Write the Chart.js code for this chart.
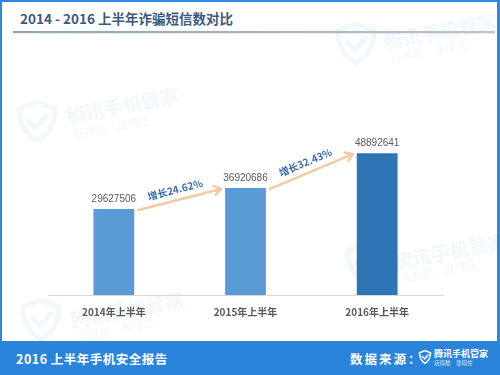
<!DOCTYPE html>
<html><head><meta charset="utf-8">
<script src="https://cdn.jsdelivr.net/npm/chart.js@4.4.1/dist/chart.umd.min.js"></script>
<style>
html,body{margin:0;padding:0;width:500px;height:375px;overflow:hidden;background:#fff;font-family:"Noto Sans CJK SC","Noto Sans",sans-serif;}
#frame{position:absolute;left:0;top:0;width:500px;height:375px;box-sizing:border-box;border-left:2px solid #2f86dc;border-right:3px solid #2f86dc;border-top:2px solid #2f86dc;}
#title{position:absolute;left:20px;top:8px;font-size:13.5px;font-weight:bold;color:#3d5a7c;white-space:nowrap;}
#rule{position:absolute;left:13px;top:31px;width:482px;height:2px;background:linear-gradient(to right,#8fa3b8,#b9c6d3);box-shadow:0 1px 1px rgba(0,0,0,0.08);}
#footer{position:absolute;left:0;top:341px;width:500px;height:34px;background:#2b84dc;color:#fff;}
#ftl{position:absolute;left:16px;top:8px;font-size:12.5px;font-weight:bold;letter-spacing:0.5px;}
#ftr{position:absolute;left:350px;top:8px;font-size:12.5px;font-weight:bold;letter-spacing:2px;}
#flogo{position:absolute;left:418px;top:7px;}
.wm{position:absolute;opacity:0.055;color:#2b84dc;pointer-events:none;}
.wm .t{position:absolute;font-weight:bold;font-size:19px;white-space:nowrap;transform-origin:left top;}
.wm .s{position:absolute;font-size:11px;white-space:nowrap;transform-origin:left top;}
canvas{position:absolute;left:0;top:0;}
</style></head>
<body>
<div id="frame"></div>
<div class="wm" style="left:14px;top:90px;width:160px;height:60px;"><svg width="46" height="46" viewBox="0 0 46 46" style="position:absolute;left:0;top:8px;"><path d="M23 4 L41 11 Q41 33 23 43 Q5 33 5 11 Z" fill="none" stroke="#2b84dc" stroke-width="5"/><path d="M13 21 L22 30 L34 16" fill="none" stroke="#2b84dc" stroke-width="5"/></svg><div class="t" style="left:50px;top:12px;transform:rotate(-11deg)">腾讯手机管家</div><div class="s" style="left:58px;top:36px;transform:rotate(-11deg)">玩得酷　靠得住</div></div>
<div class="wm" style="left:333px;top:12px;width:160px;height:60px;"><svg width="46" height="46" viewBox="0 0 46 46" style="position:absolute;left:0;top:8px;"><path d="M23 4 L41 11 Q41 33 23 43 Q5 33 5 11 Z" fill="none" stroke="#2b84dc" stroke-width="5"/><path d="M13 21 L22 30 L34 16" fill="none" stroke="#2b84dc" stroke-width="5"/></svg><div class="t" style="left:48px;top:16px;transform:rotate(-11deg)">腾讯手机管家</div><div class="s" style="left:56px;top:38px;transform:rotate(-11deg)">玩得酷　靠得住</div></div>
<div class="wm" style="left:343px;top:232px;width:160px;height:60px;"><svg width="46" height="46" viewBox="0 0 46 46" style="position:absolute;left:0;top:8px;"><path d="M23 4 L41 11 Q41 33 23 43 Q5 33 5 11 Z" fill="none" stroke="#2b84dc" stroke-width="5"/><path d="M13 21 L22 30 L34 16" fill="none" stroke="#2b84dc" stroke-width="5"/></svg><div class="t" style="left:48px;top:16px;transform:rotate(-11deg)">腾讯手机管家</div><div class="s" style="left:56px;top:38px;transform:rotate(-11deg)">玩得酷　靠得住</div></div>
<div class="wm" style="left:18px;top:288px;width:160px;height:60px;"><svg width="46" height="46" viewBox="0 0 46 46" style="position:absolute;left:0;top:8px;"><path d="M23 4 L41 11 Q41 33 23 43 Q5 33 5 11 Z" fill="none" stroke="#2b84dc" stroke-width="5"/><path d="M13 21 L22 30 L34 16" fill="none" stroke="#2b84dc" stroke-width="5"/></svg><div class="t" style="left:50px;top:18px;transform:rotate(-11deg)">腾讯手机管家</div><div class="s" style="left:58px;top:40px;transform:rotate(-11deg)">玩得酷　靠得住</div></div>
<div id="title">2014 - 2016 上半年诈骗短信数对比</div>
<div id="rule"></div>
<canvas id="c" width="500" height="341"></canvas>
<div id="footer">
  <div id="ftl">2016 上半年手机安全报告</div>
  <div id="ftr">数据来源：</div>
  <div id="flogo">
    <svg width="14" height="16" viewBox="0 0 46 50" style="position:absolute;left:0;top:1px;"><path d="M23 4 L41 11 Q41 35 23 46 Q5 35 5 11 Z" fill="none" stroke="#fff" stroke-width="5"/><path d="M13 22 L22 31 L34 17" fill="none" stroke="#fff" stroke-width="5"/></svg>
    <div style="position:absolute;left:16px;top:-1px;font-size:9px;font-weight:bold;white-space:nowrap;">腾讯手机管家</div>
    <div style="position:absolute;left:16px;top:11px;font-size:5.5px;white-space:nowrap;opacity:0.85;">玩得酷　靠得住</div>
  </div>
</div>
<script>
const categories = ["2014年上半年", "2015年上半年", "2016年上半年"];
const fraudSmsCounts = [29627506, 36920686, 48892641];
const growthLabels = ["增长24.62%", "增长32.43%"];
const barColors = ["#5b9bd5", "#5b9bd5", "#2e75b6"];

const valueLabels = {
  id: "valueLabels",
  afterDatasetsDraw(chart) {
    const ctx = chart.ctx;
    const meta = chart.getDatasetMeta(0);
    ctx.save();
    ctx.font = "10px 'Liberation Sans', 'Noto Sans', sans-serif";
    ctx.fillStyle = "#595959";
    ctx.textAlign = "center";
    ctx.textBaseline = "middle";
    meta.data.forEach((bar, i) => {
      ctx.fillText(String(fraudSmsCounts[i]), bar.x, bar.y - 10);
    });
    ctx.restore();
  }
};

const growthArrows = {
  id: "growthArrows",
  afterDatasetsDraw(chart) {
    const ctx = chart.ctx;
    const bars = chart.getDatasetMeta(0).data;
    ctx.save();
    for (let i = 0; i < bars.length - 1; i++) {
      const a = bars[i], b = bars[i + 1];
      const x1 = a.x + a.width / 2 + 4, y1 = a.y + 1;
      const x2 = b.x - b.width / 2 - 4, y2 = b.y + 1;
      const ang = Math.atan2(y2 - y1, x2 - x1);
      ctx.strokeStyle = "#f6c9a2";
      ctx.lineWidth = 2.5;
      ctx.lineCap = "round";
      ctx.lineJoin = "round";
      ctx.beginPath();
      ctx.moveTo(x1, y1);
      ctx.lineTo(x2, y2);
      ctx.stroke();
      const h = 8;
      ctx.beginPath();
      ctx.moveTo(x2 - h * Math.cos(ang - 0.6), y2 - h * Math.sin(ang - 0.6));
      ctx.lineTo(x2, y2);
      ctx.lineTo(x2 - h * Math.cos(ang + 0.6), y2 - h * Math.sin(ang + 0.6));
      ctx.stroke();
      const mx = (x1 + x2) / 2, my = (y1 + y2) / 2;
      const off = 10;
      const tx = mx + off * Math.sin(ang) - 2, ty = my - off * Math.cos(ang);
      ctx.save();
      ctx.translate(tx, ty);
      ctx.rotate(ang);
      ctx.font = "bold 10px 'Noto Sans CJK SC', sans-serif";
      ctx.fillStyle = "#3a6ea8";
      ctx.textAlign = "center";
      ctx.textBaseline = "middle";
      ctx.fillText(growthLabels[i], 0, 0);
      ctx.restore();
    }
    ctx.restore();
  }
};

new Chart(document.getElementById("c"), {
  type: "bar",
  data: {
    labels: categories,
    datasets: [{
      data: fraudSmsCounts,
      backgroundColor: barColors,
      borderWidth: 0,
      barPercentage: 0.62,
      categoryPercentage: 0.5
    }]
  },
  options: {
    responsive: false,
    animation: false,
    devicePixelRatio: 1,
    layout: { padding: { left: 48, right: 57, top: 121, bottom: 20 } },
    plugins: { legend: { display: false }, tooltip: { enabled: false } },
    scales: {
      x: {
        grid: { display: false },
        border: { display: true, color: "#d9d9d9", width: 1 },
        ticks: { color: "#595959", font: { size: 10, weight: "bold", family: "'Noto Sans CJK SC', sans-serif" }, padding: 3 }
      },
      y: { display: false, min: 0, max: 60000000 }
    }
  },
  plugins: [valueLabels, growthArrows]
});
</script>
</body></html>
